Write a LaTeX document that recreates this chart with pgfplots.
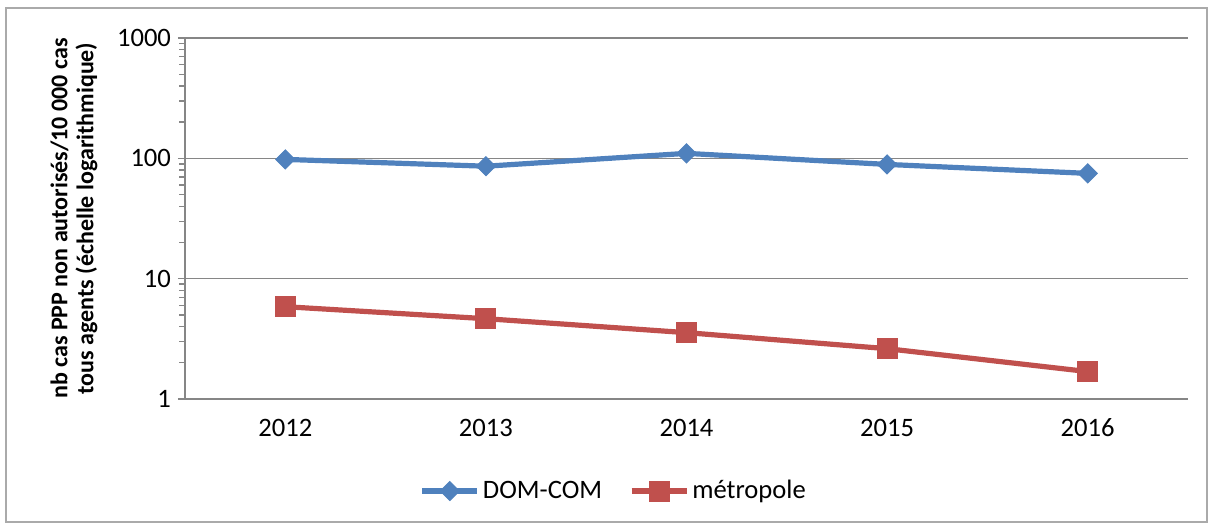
\documentclass[border=0pt]{standalone}
\usepackage{fontspec}
\setmainfont{Carlito}
\usepackage{pgfplots}
\pgfplotsset{compat=1.18}
\definecolor{dblue}{HTML}{4F81BD}
\definecolor{dred}{HTML}{C0504D}
\definecolor{axgray}{HTML}{868686}
\begin{document}
\begin{tikzpicture}
\useasboundingbox (-92.5bp,-64.5bp) rectangle (514bp,199.5bp);
\draw[color=axgray!70, line width=0.6bp] (-89.5bp,-61.5bp) rectangle (511bp,195.5bp);
\begin{axis}[
  at={(0,0)}, anchor=south west,
  scale only axis,
  width=501.5bp, height=180.5bp,
  ymode=log,
  ymin=1, ymax=1000,
  xmin=-0.5, xmax=4.5,
  xtick={0,1,2,3,4},
  xticklabels={2012,2013,2014,2015,2016},
  ytick={1,10,100,1000},
  yticklabels={1,10,100,1000},
  minor ytick={},
  axis x line*=bottom,
  axis y line*=left,
  axis line style={draw=axgray, line width=0.7bp, -},
  ymajorgrids,
  grid style={draw=axgray, line width=0.7bp},
  tick align=outside,
  major tick length=3.5bp,
  x tick style={draw=none},
  y tick style={draw=axgray, line width=0.7bp},
  extra x ticks={-0.5,0.5,1.5,2.5,3.5,4.5},
  extra x tick labels={},
  extra x tick style={grid=none, tick style={draw=axgray, line width=0.7bp}, major tick length=3.5bp},
  tick label style={font=\fontsize{13.3bp}{15bp}\selectfont, text=black},
  xticklabel style={yshift=-3bp},
  ylabel={\bfseries\begin{tabular}{c}nb cas PPP non autorisés/10 000 cas\\[-1.5bp]tous agents (échelle logarithmique)\end{tabular}},
  ylabel style={font=\fontsize{12bp}{14.5bp}\selectfont, at={(axis description cs:-0.11,0.5)}, anchor=center},
  legend style={at={(axis description cs:0.428,-0.255)}, anchor=center, draw=none, font=\fontsize{13.3bp}{15bp}\selectfont, legend columns=2, nodes={inner xsep=1.5bp}, /tikz/every even column/.append style={column sep=12bp}},
  legend cell align=left,
  legend image code/.code={
    \draw[#1, mark repeat=2, mark phase=2] plot coordinates {(0bp,0bp) (13.75bp,0bp) (27.5bp,0bp)};
  },
]
\addplot[color=dblue, line width=2.6bp, mark=square*, mark size=3.35bp, mark options={fill=dblue, draw=dblue, line width=0.5bp, rotate=45}]
  coordinates {(0,98) (1,86) (2,110) (3,89) (4,75)};
\addlegendentry{DOM-COM}
\addplot[color=dred, line width=2.6bp, mark=square*, mark size=5bp, mark options={fill=dred, draw=dred, line width=0.5bp}]
  coordinates {(0,5.85) (1,4.65) (2,3.56) (3,2.62) (4,1.69)};
\addlegendentry{métropole}
\end{axis}
\end{tikzpicture}
\end{document}
